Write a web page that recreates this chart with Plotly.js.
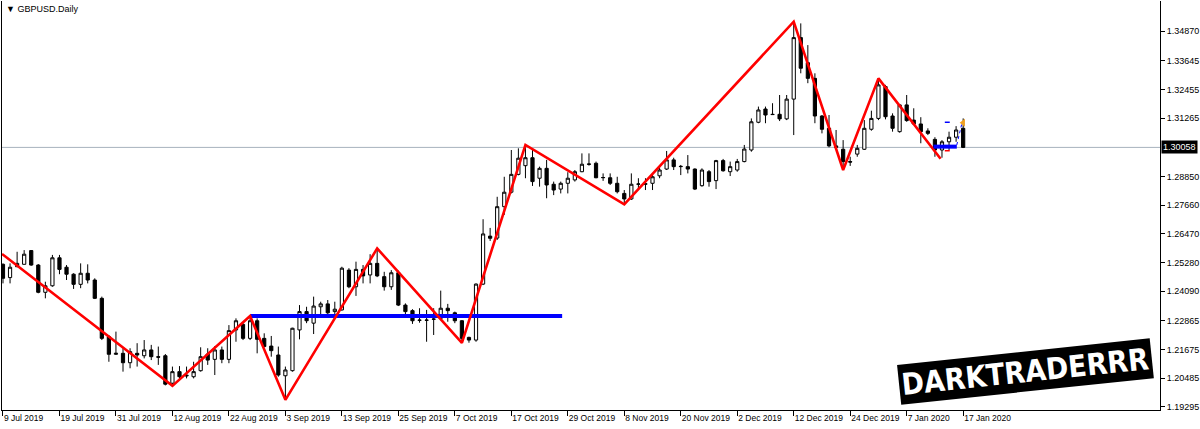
<!DOCTYPE html>
<html><head><meta charset="utf-8">
<script src="https://cdn.plot.ly/plotly-3.0.1.min.js"></script>
<style>html,body{margin:0;padding:0;background:#fff;}#chart{width:1200px;height:429px;}</style>
</head><body><div id="chart"></div>
<script>
// ---------- DATA ----------
const symbolTitle = '\u25BC GBPUSD.Daily';
// trading-day index of each daily bar (9 Jul 2019 = 0 ... 17 Jan 2020 = 136)
const barIndex = Array.from({length: 137}, (_, i) => i);
const opens = [
1.2521,1.2466,1.2511,1.2521,1.2578,1.2518,1.2405,1.2432,1.2548,1.2509,
1.2480,1.2438,1.2484,1.2456,1.2380,1.2221,1.2148,1.2152,1.2113,1.2152,
1.2142,1.2166,1.2138,1.2142,1.2028,1.2076,1.2058,1.2055,1.2080,1.2149,
1.2127,1.2166,1.2127,1.2249,1.2272,1.2214,1.2287,1.2214,1.2182,1.2145,
1.2059,1.2080,1.2249,1.2325,1.2277,1.2345,1.2357,1.2325,1.2332,1.2497,
1.2428,1.2500,1.2477,1.2525,1.2470,1.2428,1.2486,1.2352,1.2329,1.2290,
1.2290,1.2293,1.2297,1.2339,1.2320,1.2287,1.2218,1.2207,1.2439,1.2638,
1.2630,1.2760,1.2820,1.2894,1.2930,1.2963,1.2878,1.2919,1.2853,1.2833,
1.2857,1.2871,1.2905,1.2937,1.2940,1.2880,1.2880,1.2857,1.2815,1.2792,
1.2853,1.2853,1.2857,1.2888,1.2916,1.2954,1.2926,1.2926,1.2916,1.2847,
1.2905,1.2868,1.2951,1.2905,1.2912,1.2947,1.2995,1.3110,1.3165,1.3143,
1.3143,1.3124,1.3206,1.3461,1.3357,1.3292,1.3136,1.3085,1.3012,1.2998,
1.2947,1.2978,1.2998,1.3081,1.3126,1.3258,1.3136,1.3071,1.3182,1.3119,
1.3103,1.3074,1.3039,1.2995,1.3029,1.3048,1.3085];
const highs = [
1.2525,1.2525,1.2573,1.2580,1.2580,1.2522,1.2449,1.2560,1.2560,1.2518,
1.2484,1.2525,1.2521,1.2463,1.2387,1.2228,1.2242,1.2173,1.2173,1.2194,
1.2207,1.2187,1.2180,1.2149,1.2097,1.2099,1.2097,1.2117,1.2177,1.2173,
1.2182,1.2180,1.2269,1.2297,1.2279,1.2307,1.2297,1.2235,1.2224,1.2180,
1.2097,1.2258,1.2352,1.2345,1.2387,1.2366,1.2373,1.2366,1.2511,1.2505,
1.2532,1.2518,1.2563,1.2587,1.2490,1.2497,1.2495,1.2359,1.2335,1.2339,
1.2332,1.2339,1.2412,1.2357,1.2325,1.2290,1.2221,1.2442,1.2708,1.2672,
1.2801,1.2884,1.2995,1.3002,1.3016,1.3002,1.2926,1.2954,1.2864,1.2864,
1.2903,1.2912,1.2981,1.2981,1.2947,1.2898,1.2898,1.2884,1.2829,1.2898,
1.2878,1.2878,1.2894,1.2926,1.2991,1.2963,1.2933,1.2974,1.2919,1.2919,
1.2912,1.2954,1.2958,1.2947,1.2958,1.3016,1.3126,1.3175,1.3175,1.3189,
1.3223,1.3223,1.3527,1.3520,1.3430,1.3313,1.3140,1.3140,1.3078,1.3036,
1.2967,1.3016,1.3119,1.3158,1.3292,1.3265,1.3147,1.3186,1.3223,1.3168,
1.3131,1.3085,1.3048,1.3036,1.3071,1.3094,1.3126];
const lows = [
1.2442,1.2442,1.2511,1.2521,1.2515,1.2401,1.2380,1.2428,1.2480,1.2456,
1.2419,1.2422,1.2442,1.2377,1.2207,1.2117,1.2145,1.2076,1.2090,1.2097,
1.2131,1.2124,1.2104,1.2019,1.2017,1.2044,1.2048,1.2048,1.2076,1.2104,
1.2062,1.2111,1.2111,1.2200,1.2207,1.2207,1.2152,1.2177,1.2138,1.2055,
1.1959,1.2076,1.2210,1.2277,1.2232,1.2304,1.2307,1.2311,1.2329,1.2422,
1.2390,1.2442,1.2442,1.2468,1.2412,1.2415,1.2348,1.2304,1.2274,1.2279,
1.2200,1.2228,1.2290,1.2283,1.2277,1.2195,1.2196,1.2200,1.2435,1.2618,
1.2622,1.2726,1.2815,1.2890,1.2878,1.2846,1.2843,1.2795,1.2808,1.2815,
1.2815,1.2864,1.2903,1.2930,1.2878,1.2867,1.2850,1.2815,1.2770,1.2788,
1.2829,1.2829,1.2829,1.2878,1.2912,1.2912,1.2891,1.2898,1.2829,1.2843,
1.2843,1.2833,1.2905,1.2887,1.2905,1.2944,1.2988,1.3106,1.3106,1.3140,
1.3115,1.3119,1.3057,1.3313,1.3272,1.3106,1.3064,1.3006,1.2998,1.2912,
1.2929,1.2967,1.2995,1.3075,1.3119,1.3122,1.3071,1.3067,1.3112,1.3099,
1.3023,1.3057,1.2967,1.2963,1.2995,1.3029,1.3003];
const closes = [
1.2463,1.2509,1.2525,1.2563,1.2518,1.2405,1.2432,1.2548,1.2500,1.2480,
1.2438,1.2484,1.2456,1.2380,1.2214,1.2148,1.2152,1.2113,1.2159,1.2145,
1.2166,1.2138,1.2136,1.2024,1.2076,1.2055,1.2061,1.2076,1.2138,1.2124,
1.2166,1.2127,1.2246,1.2287,1.2214,1.2287,1.2210,1.2180,1.2163,1.2062,
1.2083,1.2256,1.2325,1.2287,1.2348,1.2357,1.2320,1.2335,1.2505,1.2428,
1.2500,1.2473,1.2525,1.2473,1.2428,1.2486,1.2352,1.2325,1.2287,1.2289,
1.2289,1.2294,1.2339,1.2329,1.2287,1.2214,1.2207,1.2439,1.2647,1.2629,
1.2760,1.2820,1.2894,1.2961,1.2963,1.2864,1.2919,1.2850,1.2829,1.2857,
1.2878,1.2905,1.2936,1.2936,1.2880,1.2881,1.2857,1.2822,1.2792,1.2853,
1.2854,1.2855,1.2884,1.2912,1.2954,1.2926,1.2927,1.2916,1.2833,1.2912,
1.2864,1.2951,1.2909,1.2926,1.2947,1.2999,1.3112,1.3161,1.3140,1.3142,
1.3124,1.3206,1.3461,1.3334,1.3292,1.3136,1.3081,1.3012,1.3006,1.2947,
1.2945,1.3002,1.3085,1.3126,1.3265,1.3133,1.3085,1.3182,1.3117,1.3103,
1.3071,1.3064,1.2995,1.3029,1.3048,1.3078,1.30058];

const dateTickIdx  = [0,8,16,24,32,40,48,56,64,72,80,88,96,104,112,120,128,136];
const dateTickText = ['9 Jul 2019','19 Jul 2019','31 Jul 2019','12 Aug 2019','22 Aug 2019',
  '3 Sep 2019','13 Sep 2019','25 Sep 2019','7 Oct 2019','17 Oct 2019','29 Oct 2019',
  '8 Nov 2019','20 Nov 2019','2 Dec 2019','12 Dec 2019','24 Dec 2019','7 Jan 2020','17 Jan 2020'];
const priceTickVals = [1.34870,1.33645,1.32455,1.31265,1.28850,1.27660,1.26470,
  1.25280,1.24090,1.22865,1.21675,1.20485,1.19295];
const lastPrice = 1.30058;

// red zig-zag vertices (bar index, price)
const zigzagIdx   = [-0.14, 24, 35, 40, 53, 65, 74, 88, 112, 119, 124, 132.8];
const zigzagPrice = [1.2564,1.2017,1.2307,1.1959,1.2587,1.2195,1.3016,1.2770,1.3527,1.2912,1.3292,1.2959];
// blue horizontal level
const levelIdx   = [35, 79.2];
const levelPrice = [1.2307, 1.2307];
// small trade objects at the right end
const tradeLineIdx = [131.8, 135.1];  const tradeLinePrice = [1.3009, 1.3009];
const tpDashIdx = [133.4, 134.1];     const tpDashPrice = [1.3110, 1.3110];
const slDashIdx = [133.4, 134.1];     const slDashPrice = [1.2992, 1.2992];
const dotLinkIdx = [135.1, 135.8];    const dotLinkPrice = [1.3016, 1.3103];
const arrowIdx = [136.0];             const arrowPrice = [1.3108];
const watermarkText = 'DARKTRADERRR';

// ---------- CHART ----------
const axisFont = {family: 'Liberation Sans, Arial, sans-serif', size: 9, color: '#000'};
const traces = [
  {type: 'candlestick', x: barIndex, open: opens, high: highs, low: lows, close: closes,
   increasing: {line: {color: '#000', width: 1}, fillcolor: '#ffffff'},
   decreasing: {line: {color: '#000', width: 1}, fillcolor: '#000000'},
   whiskerwidth: 0, hoverinfo: 'skip', showlegend: false},
  {type: 'scatter', mode: 'lines', x: levelIdx, y: levelPrice,
   line: {color: '#0000ff', width: 4}, hoverinfo: 'skip', showlegend: false},
  {type: 'scatter', mode: 'lines', x: zigzagIdx, y: zigzagPrice,
   line: {color: '#ff0000', width: 2.6}, hoverinfo: 'skip', showlegend: false},
  {type: 'scatter', mode: 'lines', x: tradeLineIdx, y: tradeLinePrice,
   line: {color: '#0000ff', width: 4}, hoverinfo: 'skip', showlegend: false},
  {type: 'scatter', mode: 'lines', x: tpDashIdx, y: tpDashPrice,
   line: {color: '#0000ff', width: 1.5}, hoverinfo: 'skip', showlegend: false},
  {type: 'scatter', mode: 'lines', x: slDashIdx, y: slDashPrice,
   line: {color: '#ff0000', width: 1.5}, hoverinfo: 'skip', showlegend: false},
  {type: 'scatter', mode: 'lines', x: dotLinkIdx, y: dotLinkPrice,
   line: {color: '#0000ff', width: 1, dash: 'dot'}, hoverinfo: 'skip', showlegend: false},
  {type: 'scatter', mode: 'markers', x: arrowIdx, y: arrowPrice,
   marker: {symbol: 'triangle-left', size: 7, color: '#f0a020'}, hoverinfo: 'skip', showlegend: false}
];

const layout = {
  width: 1200, height: 429,
  margin: {l: 2, r: 40, t: 1, b: 19, pad: 0},
  paper_bgcolor: '#ffffff', plot_bgcolor: '#ffffff',
  showlegend: false, boxgap: 0.35,
  font: axisFont,
  xaxis: {
    type: 'linear', range: [-0.14, 163.88], rangeslider: {visible: false},
    showgrid: false, zeroline: false, showline: true, linecolor: '#000', linewidth: 1,
    ticks: 'outside', ticklen: 5, tickcolor: '#000', tickwidth: 1,
    tickmode: 'array', tickvals: dateTickIdx, ticktext: dateTickText,
    tickangle: 0, automargin: false,
    ticklabelposition: 'outside right', tickfont: {family: axisFont.family, size: 8.5, color: '#000'},
    fixedrange: true
  },
  yaxis: {
    side: 'right', range: [1.19170, 1.36128], automargin: false,
    showgrid: false, zeroline: false, showline: true, mirror: true, linecolor: '#000', linewidth: 1,
    ticks: 'outside', ticklen: 4, tickcolor: '#000',
    tickmode: 'array', tickvals: priceTickVals, ticktext: priceTickVals.map(v => v.toFixed(5)),
    tickfont: axisFont, fixedrange: true
  },
  shapes: [
    {type: 'line', xref: 'paper', x0: 0, x1: 1, yref: 'y', y0: lastPrice, y1: lastPrice,
     line: {color: '#a7b2bd', width: 1}, layer: 'below'}
  ],
  annotations: [
    {xref: 'paper', yref: 'paper', x: 0.002, y: 1, xanchor: 'left', yanchor: 'top', yshift: -1,
     text: symbolTitle, showarrow: false, font: {family: axisFont.family, size: 9, color: '#000'}},
    {xref: 'paper', yref: 'y', x: 1, y: lastPrice, xanchor: 'left', yanchor: 'middle', xshift: 1,
     text: lastPrice.toFixed(5), showarrow: false, bgcolor: '#000', borderpad: 1,
     font: {family: axisFont.family, size: 9, color: '#fff'}},
    {xref: 'paper', yref: 'paper', x: 0.884, y: 0.093, xanchor: 'center', yanchor: 'middle',
     text: watermarkText, showarrow: false, textangle: -6, bgcolor: '#000', borderpad: 2,
     font: {family: 'DejaVu Sans Condensed, DejaVu Sans, sans-serif', size: 30, color: '#fff', weight: 'bold'}}
  ]
};

Plotly.newPlot('chart', traces, layout, {staticPlot: true, displayModeBar: false});
</script>
</body></html>
